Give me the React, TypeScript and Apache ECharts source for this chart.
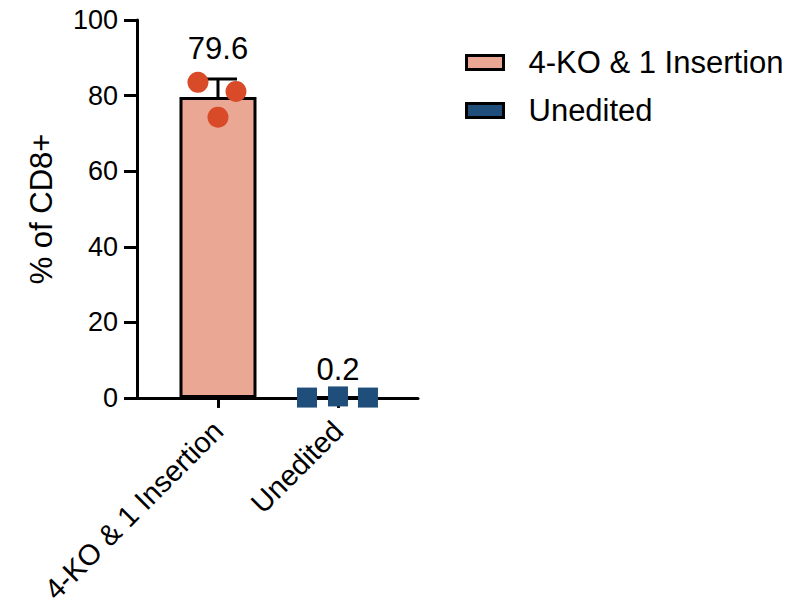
import React, { useEffect, useRef } from "react";
import * as echarts from "echarts";

const categories = ["4-KO & 1 Insertion", "Unedited"];
const means = [79.6, 0.2];
const sdUpper = [84.4, 0.37];
const koReplicates = [83.5, 81.1, 74.3];
const koJitter = [-0.167, 0.15, 0];
const uneditedReplicates = [0.1, 0.4, 0.1];
const uneditedJitter = [-0.258, 0, 0.25];
const yTicks = { min: 0, max: 100, interval: 20 };

const FONT = "'Liberation Sans', Arial, Helvetica, sans-serif";
const BAR_COLORS = ["#E9A794", "#1F4E7A"];
const DOT_COLOR = "#D84A28";

export default function App() {
  const ref = useRef<HTMLDivElement>(null);
  useEffect(() => {
    if (!ref.current) return;
    const chart = echarts.init(ref.current, null, { renderer: "svg" });
    const labelDistances = [33, 11];
    const option: any = {
      animation: false,
      backgroundColor: "#ffffff",
      textStyle: { fontFamily: FONT, color: "#000" },
      grid: { left: 137, right: 373, top: 20, bottom: 206 },
      legend: {
        orient: "vertical",
        left: 460,
        top: 42,
        itemWidth: 37,
        itemHeight: 14,
        itemGap: 17,
        icon: "rect",
        data: categories,
        itemStyle: { borderColor: "#000", borderWidth: 3 },
        textStyle: { fontFamily: FONT, fontSize: 31, color: "#000", padding: [0, 0, 0, 20] },
      },
      xAxis: {
        type: "value",
        min: -0.675,
        max: 1.667,
        splitLine: { show: false },
        axisLine: { onZero: false, lineStyle: { color: "#000", width: 3 } },
        axisTick: {
          show: true,
          customValues: [0, 1],
          length: 10,
          lineStyle: { color: "#000", width: 3 },
        },
        axisLabel: {
          customValues: [0, 1],
          rotate: 45,
          margin: 28,
          fontSize: 29,
          fontFamily: FONT,
          color: "#000",
          formatter: (v: number) => categories[Math.round(v)] ?? "",
        },
      },
      yAxis: {
        type: "value",
        min: yTicks.min,
        max: yTicks.max,
        interval: yTicks.interval,
        name: "% of CD8+",
        nameLocation: "middle",
        nameGap: 80,
        nameTextStyle: { fontSize: 31, fontFamily: FONT, color: "#000" },
        splitLine: { show: false },
        axisLine: { show: true, onZero: false, lineStyle: { color: "#000", width: 3 } },
        axisTick: { show: true, length: 13, lineStyle: { color: "#000", width: 3 } },
        axisLabel: { fontSize: 27, fontFamily: FONT, color: "#000", margin: 19 },
      },
      series: [
        ...categories.map((name, i) => ({
          name,
          type: "bar",
          barWidth: 77,
          barGap: "-100%",
          z: 2,
          itemStyle: { color: BAR_COLORS[i], borderColor: "#000", borderWidth: 3 },
          label: {
            show: true,
            position: "top",
            distance: labelDistances[i],
            fontSize: 31,
            fontFamily: FONT,
            color: "#000",
            formatter: () => String(means[i]),
          },
          data: [[i, means[i]]],
        })),
        {
          type: "custom",
          name: "error",
          z: 3,
          data: [[0, means[0], sdUpper[0]]],
          encode: { x: 0, y: [1, 2] },
          renderItem: (params: any, api: any) => {
            const x = api.value(0);
            const base = api.coord([x, api.value(1)]);
            const top = api.coord([x, api.value(2)]);
            const half = 19;
            return {
              type: "group",
              children: [
                {
                  type: "line",
                  shape: { x1: base[0], y1: base[1], x2: top[0], y2: top[1] },
                  style: { stroke: "#000", lineWidth: 3 },
                },
                {
                  type: "line",
                  shape: { x1: top[0] - half, y1: top[1], x2: top[0] + half, y2: top[1] },
                  style: { stroke: "#000", lineWidth: 3 },
                },
              ],
            };
          },
        },
        {
          type: "scatter",
          name: "ko-points",
          z: 5,
          symbol: "circle",
          symbolSize: 21,
          itemStyle: { color: DOT_COLOR, opacity: 1 },
          data: koReplicates.map((v, k) => [0 + koJitter[k], v]),
        },
        {
          type: "scatter",
          name: "unedited-points",
          z: 5,
          symbol: "rect",
          symbolSize: 20,
          itemStyle: { color: BAR_COLORS[1], opacity: 1 },
          data: uneditedReplicates.map((v, k) => [1 + uneditedJitter[k], v]),
        },
      ],
    };
    chart.setOption(option);
    return () => chart.dispose();
  }, []);
  return (
    <div
      ref={ref}
      style={{ position: "fixed", left: 0, top: 0, width: 791, height: 607, background: "#fff" }}
    />
  );
}
